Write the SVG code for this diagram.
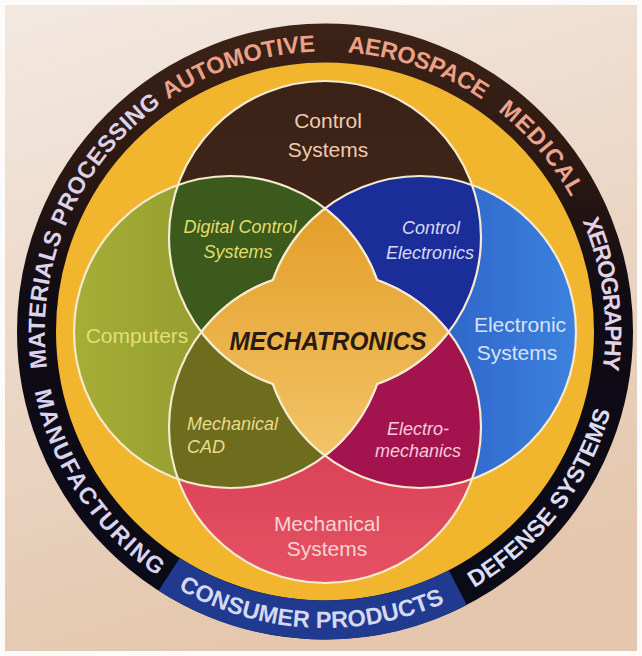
<svg xmlns="http://www.w3.org/2000/svg" width="642" height="656" viewBox="0 0 642 656">
<style>
.lbl{font-family:"Liberation Sans",Arial,sans-serif;font-size:21px;text-anchor:middle}
.it{font-family:"Liberation Sans",Arial,sans-serif;font-size:18px;font-style:italic;text-anchor:middle}
.its{font-family:"Liberation Sans",Arial,sans-serif;font-size:18px;font-style:italic;text-anchor:start}
.rt{font-family:"Liberation Sans",Arial,sans-serif;font-size:23.5px;font-weight:bold}
.outline{fill:none;stroke:#f6ead0;stroke-width:2.2}
</style>
<defs>
<linearGradient id="bg" x1="0" y1="0" x2="0.3" y2="1"><stop offset="0" stop-color="#f3e9e1"/><stop offset="1" stop-color="#e4c7ae"/></linearGradient>
<linearGradient id="ringG" gradientUnits="userSpaceOnUse" x1="0" y1="23" x2="0" y2="640"><stop offset="0" stop-color="#3d2317"/><stop offset="0.25" stop-color="#2a1712"/><stop offset="0.45" stop-color="#0f0b14"/><stop offset="1" stop-color="#0a0a18"/></linearGradient>
<linearGradient id="gL" gradientUnits="userSpaceOnUse" x1="74" y1="0" x2="386" y2="0"><stop offset="0" stop-color="#a6ae36"/><stop offset="1" stop-color="#7c8824"/></linearGradient>
<linearGradient id="gR" gradientUnits="userSpaceOnUse" x1="264" y1="0" x2="576" y2="0"><stop offset="0" stop-color="#1f3fae"/><stop offset="1" stop-color="#3b82de"/></linearGradient>
<linearGradient id="gB" gradientUnits="userSpaceOnUse" x1="0" y1="271" x2="0" y2="583"><stop offset="0" stop-color="#cc2c44"/><stop offset="1" stop-color="#e55264"/></linearGradient>
<linearGradient id="gT" gradientUnits="userSpaceOnUse" x1="0" y1="81" x2="0" y2="393"><stop offset="0" stop-color="#3a2216"/><stop offset="1" stop-color="#45291b"/></linearGradient>
<linearGradient id="gS" gradientUnits="userSpaceOnUse" x1="0" y1="208" x2="0" y2="456"><stop offset="0" stop-color="#e49e28"/><stop offset="1" stop-color="#f2c468"/></linearGradient>
<clipPath id="cT"><circle cx="325" cy="237" r="156"/></clipPath>
<clipPath id="cB"><circle cx="325" cy="427" r="156"/></clipPath>
<path id="arcUp" d="M325,611.5 A280,280 0 1 1 325,51.5 A280,280 0 1 1 325,611.5"/>
<path id="arcDown" d="M325,35 A296.5,296.5 0 1 0 325,628 A296.5,296.5 0 1 0 325,35"/>
</defs>

<rect x="0" y="0" width="642" height="656" fill="url(#bg)"/>
<rect x="2.5" y="2.5" width="637" height="651" fill="none" stroke="#fdfbf9" stroke-width="5"/>

<g id="yellow-band">
<circle cx="325" cy="331.5" r="272" fill="#f1b52e"/>
</g>

<g id="outer-ring">
<circle cx="325" cy="331.5" r="288.5" fill="none" stroke="url(#ringG)" stroke-width="39"/>
<path d="M457.8,587.6 A288.5,288.5 0 0 1 169.2,574.3" fill="none" stroke="#1f3a8e" stroke-width="39"/>
</g>

<g id="ring-labels" class="rt">
<g id="materials-processing"><text fill="#dcd2ea"><textPath href="#arcUp" startOffset="403.2" textLength="301.5">MATERIALS PROCESSING</textPath></text></g>
<g id="automotive"><text fill="#eba088"><textPath href="#arcUp" startOffset="713" textLength="156.9">AUTOMOTIVE</textPath></text></g>
<g id="aerospace"><text fill="#eba088"><textPath href="#arcUp" startOffset="902.1" textLength="144.2">AEROSPACE</textPath></text></g>
<g id="medical"><text fill="#eba48e"><textPath href="#arcUp" startOffset="1065.3" textLength="113.9">MEDICAL</textPath></text></g>
<g id="xerography"><text fill="#e2d2e6"><textPath href="#arcUp" startOffset="1205.6" textLength="152.5">XEROGRAPHY</textPath></text></g>
<g id="manufacturing"><text fill="#d8d4f0"><textPath href="#arcDown" startOffset="525.8" textLength="227.1">MANUFACTURING</textPath></text></g>
<g id="consumer-products"><text fill="#d6d8f2"><textPath href="#arcDown" startOffset="777.3" textLength="277.3">CONSUMER PRODUCTS</textPath></text></g>
<g id="defense-systems"><text fill="#dcdcf4"><textPath href="#arcDown" startOffset="1087.2" textLength="228.8">DEFENSE SYSTEMS</textPath></text></g>
</g>

<g id="control-systems">
<circle cx="325" cy="237" r="156" fill="url(#gT)"/>
</g>
<g id="electronic-systems">
<circle cx="420" cy="332" r="156" fill="url(#gR)"/>
</g>
<g id="mechanical-systems">
<circle cx="325" cy="427" r="156" fill="url(#gB)"/>
</g>
<g id="computers">
<circle cx="230" cy="332" r="156" fill="url(#gL)"/>
</g>

<g id="digital-control-systems">
<circle cx="230" cy="332" r="156" fill="#3c5a1c" clip-path="url(#cT)"/>
</g>
<g id="control-electronics">
<circle cx="420" cy="332" r="156" fill="#1b2d98" clip-path="url(#cT)"/>
</g>
<g id="mechanical-cad">
<circle cx="230" cy="332" r="156" fill="#6e6d1d" clip-path="url(#cB)"/>
</g>
<g id="electro-mechanics">
<circle cx="420" cy="332" r="156" fill="#a3134d" clip-path="url(#cB)"/>
</g>

<g id="circle-outlines">
<circle class="outline" cx="325" cy="237" r="156"/>
<circle class="outline" cx="420" cy="332" r="156"/>
<circle class="outline" cx="325" cy="427" r="156"/>
<circle class="outline" cx="230" cy="332" r="156"/>
</g>

<g id="mechatronics">
<path d="M325,208.26 A156,156 0 0 1 377.06,279.94 A156,156 0 0 1 448.74,332 A156,156 0 0 1 377.06,384.06 A156,156 0 0 1 325,455.74 A156,156 0 0 1 272.94,384.06 A156,156 0 0 1 201.26,332 A156,156 0 0 1 272.94,279.94 A156,156 0 0 1 325,208.26 Z" fill="url(#gS)" stroke="#f6ead0" stroke-width="2.2"/>
<text x="328" y="350" font-family="'Liberation Sans',Arial,sans-serif" font-size="26" font-weight="bold" font-style="italic" fill="#2a1a12" text-anchor="middle" textLength="197" lengthAdjust="spacingAndGlyphs">MECHATRONICS</text>
</g>

<g id="labels">
<text class="lbl" fill="#f3c9b0" x="328" y="128">Control</text>
<text class="lbl" fill="#f3c9b0" x="328" y="157">Systems</text>
<text class="it" fill="#e4dd6a" x="240" y="233">Digital Control</text>
<text class="it" fill="#e4dd6a" x="238" y="258">Systems</text>
<text class="it" fill="#d6daf6" x="431" y="234">Control</text>
<text class="it" fill="#d6daf6" x="430" y="259">Electronics</text>
<text class="lbl" fill="#e3df78" x="137" y="343">Computers</text>
<text class="lbl" fill="#d8e2f6" x="520" y="332">Electronic</text>
<text class="lbl" fill="#d8e2f6" x="517" y="360">Systems</text>
<text class="its" fill="#eadc8a" x="187" y="430">Mechanical</text>
<text class="its" fill="#eadc8a" x="187" y="453">CAD</text>
<text class="it" fill="#f7cadc" x="418" y="435">Electro-</text>
<text class="it" fill="#f7cadc" x="418" y="457">mechanics</text>
<text class="lbl" fill="#f6d4d4" x="327" y="531">Mechanical</text>
<text class="lbl" fill="#f6d4d4" x="327" y="556">Systems</text>
</g>
</svg>
